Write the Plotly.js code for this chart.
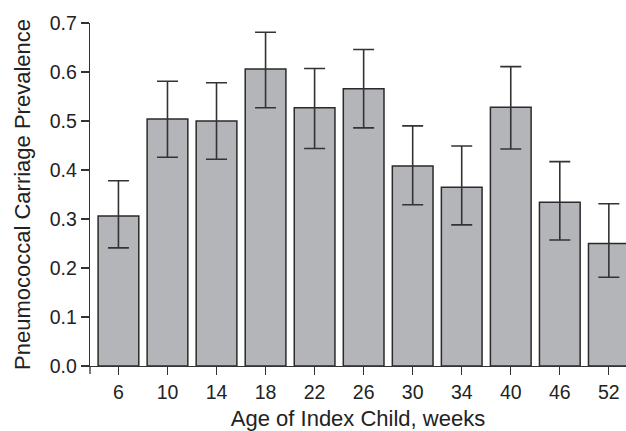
<!DOCTYPE html>
<html>
<head>
<meta charset="utf-8">
<script src="https://cdn.plot.ly/plotly-3.0.1.min.js"></script>
<style>html,body{margin:0;padding:0;background:#fff;}#chart{width:626px;height:431px;}</style>
</head>
<body>
<div id="chart"></div>
<script>
var ages = ["6", "10", "14", "18", "22", "26", "30", "34", "40", "46", "52"];
var prevalence = [0.306, 0.504, 0.500, 0.606, 0.527, 0.566, 0.408, 0.365, 0.528, 0.334, 0.250];
var upperCI = [0.378, 0.581, 0.578, 0.681, 0.607, 0.646, 0.490, 0.449, 0.611, 0.417, 0.331];
var lowerCI = [0.241, 0.426, 0.422, 0.527, 0.444, 0.486, 0.329, 0.288, 0.443, 0.257, 0.181];
var yTicks = [0, 0.1, 0.2, 0.3, 0.4, 0.5, 0.6, 0.7];

var errPlus = prevalence.map(function (v, i) { return upperCI[i] - v; });
var errMinus = prevalence.map(function (v, i) { return v - lowerCI[i]; });

var trace = {
  type: 'bar',
  x: ages,
  y: prevalence,
  marker: { color: '#b4b5b9', line: { color: '#2a2a2a', width: 1.5 } },
  error_y: {
    type: 'data', symmetric: false,
    array: errPlus, arrayminus: errMinus,
    color: '#333333', thickness: 1.6, width: 10.5
  },
  hoverinfo: 'x+y'
};

var font = 'Liberation Sans, Arial, Helvetica, sans-serif';
var layout = {
  width: 626, height: 431,
  margin: { l: 90, r: 0, t: 23, b: 65, pad: 0 },
  paper_bgcolor: '#ffffff', plot_bgcolor: '#ffffff',
  font: { family: font, color: '#222222', size: 19 },
  bargap: 0.17,
  showlegend: false,
  xaxis: {
    type: 'category',
    range: [-0.58, 10.35],
    ticks: 'outside', ticklen: 8, tickwidth: 1.3, tickcolor: '#333',
    showline: true, linecolor: '#333', linewidth: 1.3,
    showgrid: false, zeroline: false,
    tickfont: { size: 19.5, color: '#222' },
    title: { text: 'Age of Index Child, weeks', font: { size: 22, color: '#222' }, standoff: 11 }
  },
  yaxis: {
    range: [0, 0.7],
    tickvals: yTicks,
    tickformat: '.1f',
    ticks: 'outside', ticklen: 8, tickwidth: 1.3, tickcolor: '#333',
    showline: true, linecolor: '#333', linewidth: 1.3,
    showgrid: false, zeroline: false,
    tickfont: { size: 19.5, color: '#222' },
    title: { text: 'Pneumococcal Carriage Prevalence', font: { size: 22, color: '#222' }, standoff: 13 }
  },
  shapes: [{
    type: 'line', xref: 'paper', yref: 'paper',
    x0: 0, x1: 0, ysizemode: 'pixel', yanchor: 0, y0: 0, y1: -8,
    line: { color: '#333', width: 1.3 }
  }]
};

Plotly.newPlot('chart', [trace], layout, { displayModeBar: false, staticPlot: true });
</script>
</body>
</html>
